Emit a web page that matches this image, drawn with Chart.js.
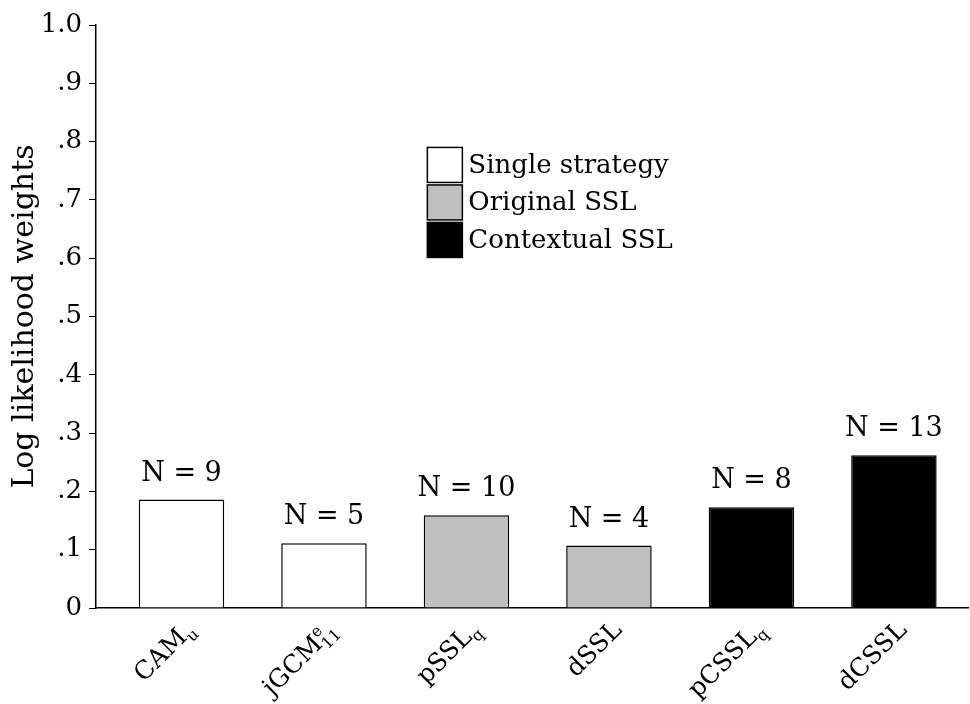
<!DOCTYPE html>
<html>
<head>
<meta charset="utf-8">
<script src="https://cdn.jsdelivr.net/npm/chart.js@4"></script>
<style>
  html, body { margin: 0; padding: 0; background: #fff; }
  #wrap { width: 970px; height: 704px; }
</style>
</head>
<body>
<div id="wrap"><canvas id="myChart" width="970" height="704"></canvas></div>
<script>
// 차트 데이터
const categories = ["CAM", "jGCM", "pSSL", "dSSL", "pCSSL", "dCSSL"];
const subLabels = ["u", "11", "q", "", "q", ""];
const supLabels = ["", "e", "", "", "", ""];
const weights = [0.186, 0.111, 0.159, 0.107, 0.173, 0.262];
const nCounts = [9, 5, 10, 4, 8, 13];
const groupNames = ["Single strategy", "Original SSL", "Contextual SSL"];
const groupOf = [0, 0, 1, 1, 2, 2];
const groupColors = ["#ffffff", "#bfbfbf", "#000000"];
const tickLabels = ["0", ".1", ".2", ".3", ".4", ".5", ".6", ".7", ".8", ".9", "1.0"];

const FONT = "'DejaVu Serif', serif";
Chart.defaults.font.family = FONT;
Chart.defaults.color = "#000";

// 그룹별 데이터셋 (범례용으로 3개로 나눔)
const datasets = groupNames.map((name, g) => ({
  label: name,
  data: categories
    .map((c, i) => (groupOf[i] === g ? { x: i, y: weights[i] } : null))
    .filter((p) => p !== null),
  backgroundColor: groupColors[g],
  borderColor: "#000",
  borderWidth: 1.5,
  borderSkipped: "bottom",
  barPercentage: 0.6,
  categoryPercentage: 1,
  grouped: false,
}));

// 막대 위 N 표시
const nLabels = {
  id: "nLabels",
  afterDatasetsDraw(chart) {
    const ctx = chart.ctx;
    ctx.save();
    ctx.font = "27px " + FONT;
    ctx.fillStyle = "#000";
    ctx.textAlign = "center";
    ctx.textBaseline = "alphabetic";
    chart.data.datasets.forEach((ds, d) => {
      const meta = chart.getDatasetMeta(d);
      meta.data.forEach((bar, j) => {
        const idx = ds.data[j].x;
        ctx.fillText("N = " + nCounts[idx], bar.x, bar.y - 19);
      });
    });
    ctx.restore();
  },
};

// x축 라벨 (아래첨자/위첨자 때문에 직접 그림)
const xLabels = {
  id: "xLabels",
  afterDraw(chart) {
    const ctx = chart.ctx;
    const xs = chart.scales.x;
    const bottom = chart.chartArea.bottom;
    ctx.save();
    ctx.fillStyle = "#000";
    ctx.textBaseline = "alphabetic";
    ctx.textAlign = "left";
    categories.forEach((name, i) => {
      const px = xs.getPixelForValue(i);
      ctx.font = "25px " + FONT;
      const mainW = ctx.measureText(name).width;
      ctx.font = "16px " + FONT;
      const subW = ctx.measureText(subLabels[i]).width;
      const supW = ctx.measureText(supLabels[i]).width;
      const total = mainW + Math.max(subW, supW);
      ctx.save();
      ctx.translate(px + 14, bottom + 23);
      ctx.rotate(-Math.PI / 4);
      ctx.font = "25px " + FONT;
      ctx.fillText(name, -total, 0);
      ctx.font = "16px " + FONT;
      if (subLabels[i]) ctx.fillText(subLabels[i], -total + mainW, 6);
      if (supLabels[i]) ctx.fillText(supLabels[i], -total + mainW, -10);
      ctx.restore();
    });
    ctx.restore();
  },
};

// 차트 안쪽 범례
const boxLegend = {
  id: "boxLegend",
  afterDraw(chart) {
    const ctx = chart.ctx;
    const area = chart.chartArea;
    const left = area.left + (area.right - area.left) * 0.38;
    const top = area.top + (area.bottom - area.top) * 0.21;
    const size = 35;
    const step = 37.5;
    ctx.save();
    ctx.font = "26px " + FONT;
    ctx.textBaseline = "middle";
    ctx.textAlign = "left";
    chart.data.datasets.forEach((ds, g) => {
      const y = top + g * step;
      ctx.fillStyle = ds.backgroundColor;
      ctx.fillRect(left, y, size, size);
      ctx.strokeStyle = "#000";
      ctx.lineWidth = 1.5;
      ctx.strokeRect(left, y, size, size);
      ctx.fillStyle = "#000";
      ctx.fillText(ds.label, left + size + 6, y + size / 2 + 1);
    });
    ctx.restore();
  },
};

const ctx = document.getElementById("myChart");
const myChart = new Chart(ctx, {
  type: "bar",
  data: { datasets: datasets },
  options: {
    responsive: false,
    animation: false,
    devicePixelRatio: 1,
    layout: { padding: { top: 25, right: 2, bottom: 88, left: 0 } },
    plugins: { legend: { display: false }, tooltip: { enabled: false } },
    scales: {
      x: {
        type: "linear",
        min: -0.6,
        max: 5.52,
        offset: false,
        grid: { display: false, offset: false },
        border: { display: true, color: "#000", width: 1.5 },
        ticks: { display: false, stepSize: 1, includeBounds: false },
      },
      y: {
        min: 0,
        max: 1,
        afterFit(scale) {
          scale.width = 96;
        },
        grid: { drawOnChartArea: false, drawTicks: true, tickLength: 7, color: "#000", lineWidth: 1 },
        border: { display: true, color: "#000", width: 1.5 },
        ticks: {
          stepSize: 0.1,
          padding: 7,
          font: { size: 26 },
          color: "#000",
          callback: (v, i) => tickLabels[i],
        },
        title: {
          display: true,
          text: "Log likelihood weights",
          font: { size: 30 },
          color: "#000",
          padding: { top: 7, bottom: 0 },
        },
      },
    },
  },
  plugins: [nLabels, xLabels, boxLegend],
});
</script>
</body>
</html>
